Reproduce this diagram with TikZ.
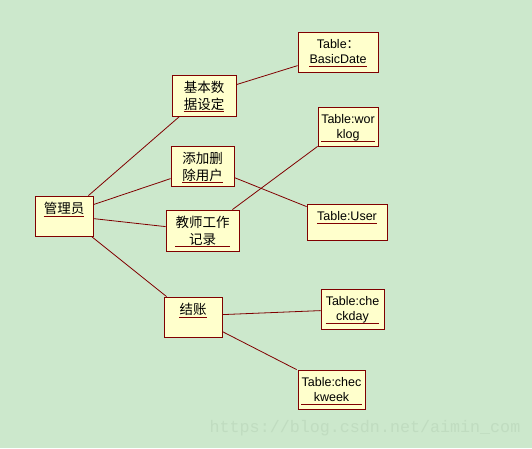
\documentclass[tikz,border=0pt]{standalone}
\usepackage{fontspec}
\setmainfont{Liberation Sans}
\newfontfamily\cjk{Noto Sans CJK SC}
\newfontfamily\wmfont{Liberation Mono}
\newcommand{\zh}[1]{{\cjk\fontsize{13.5}{15}\selectfont #1}}
\definecolor{bggreen}{HTML}{CCE8CC}
\definecolor{boxfill}{HTML}{FFFFCC}
\definecolor{boxred}{HTML}{800000}
\definecolor{wmcol}{HTML}{C0DCC0}
\tikzset{
  objbox/.style={draw=boxred, fill=boxfill, line width=0.8pt, inner sep=0pt, rectangle},
  objtext/.style={inner sep=0pt, align=center, text=black, font=\fontsize{12.5}{15}\selectfont},
  objline/.style={draw=boxred, line width=0.7pt},
  conn/.style={draw=boxred, line width=0.8pt}
}
\newcommand{\umlobj}[6]{%
  \node[objbox, minimum width={#4-#2}, minimum height={#5-#3}] (#1) at ({(#2+#4)/2},{(#3+#5)/2}) {};
  \node[objtext, anchor=north] (#1-t) at ([yshift=-6.5pt]#1.north) {#6};
  \draw[objline] ([yshift=2.5pt]#1-t.south west) -- ([yshift=2.5pt]#1-t.south east);
}
\begin{document}
\begin{tikzpicture}[x=1pt,y=-1pt]
\fill[bggreen] (0,0) rectangle (532,448);
\useasboundingbox (0,0) rectangle (532,448);

\umlobj{adm}{35}{196}{93}{236}{\strut\zh{管理员}}
\umlobj{basic}{172}{75}{236}{116}{\strut\zh{基本数}\\\strut\zh{据设定}}
\umlobj{add}{171}{146}{234}{186}{\strut\zh{添加删}\\\strut\zh{除用户}}
\umlobj{teach}{166}{210}{239}{251}{\strut\zh{教师工作}\\\strut\zh{记录}}
\umlobj{pay}{164}{297}{222}{337}{\strut\zh{结账}}
\umlobj{tbd}{298}{32}{378}{72}{\strut Table{\cjk ：}\\\strut BasicDate}
\umlobj{twl}{318}{107}{378}{146}{\strut Table:wor\\\strut klog}
\umlobj{tus}{307}{204}{387}{240}{\strut Table:User}
\umlobj{tcd}{321}{289}{384}{329}{\strut Table:che\\\strut ckday}
\umlobj{tcw}{298}{370}{365}{409}{\strut Table:chec\\\strut kweek}

\draw[conn] ([xshift=-5pt]adm.north east) -- ([xshift=8pt]basic.south west);
\draw[conn] ([yshift=-9pt]adm.north east) -- ([yshift=-33pt]add.north west);
\draw[conn] ([yshift=-23pt]adm.north east) -- ([yshift=-17pt]teach.north west);
\draw[conn] ([xshift=-2pt]adm.south east) -- ([xshift=3pt]pay.north west);
\draw[conn] ([yshift=-10pt]basic.north east) -- ([yshift=-34pt]tbd.north west);
\draw[conn] ([yshift=-32pt]add.north east) -- ([yshift=-3pt]tus.north west);
\draw[conn] ([xshift=-7pt]teach.north east) -- (twl.south west);
\draw[conn] ([yshift=-18pt]pay.north east) -- ([yshift=-22pt]tcd.north west);
\draw[conn] ([yshift=-35pt]pay.north east) -- ([xshift=-1pt]tcw.north west);

\node[inner sep=0pt, text=wmcol, font=\wmfont\fontsize{16.7}{18}\selectfont] (wm) at (365,428) {https://blog.csdn.net/aimin\_com};
\end{tikzpicture}
\end{document}
